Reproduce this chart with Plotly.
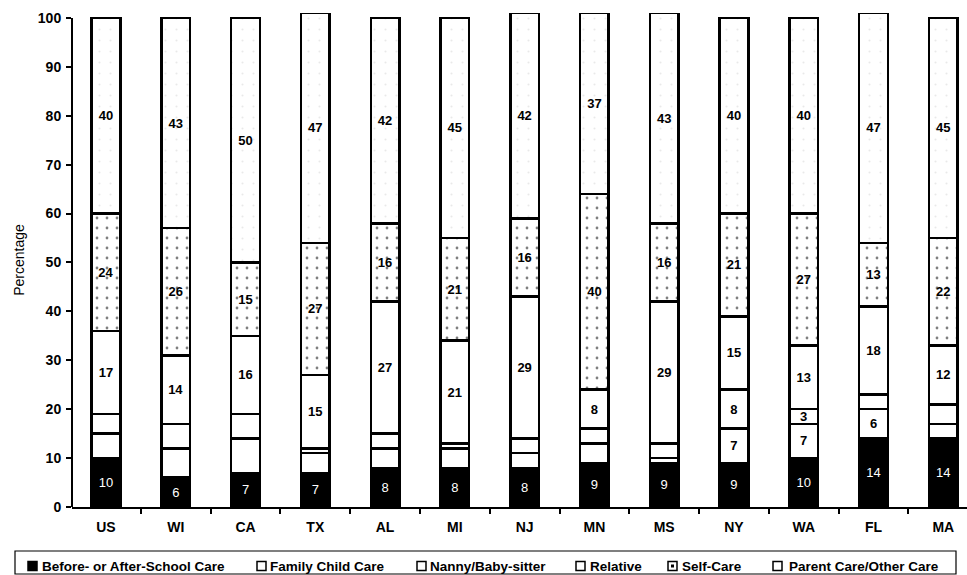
import plotly.graph_objects as go

states = ["US", "WI", "CA", "TX", "AL", "MI", "NJ", "MN", "MS", "NY", "WA", "FL", "MA"]

before_after = [10, 6, 7, 7, 8, 8, 8, 9, 9, 9, 10, 14, 14]
family_care = [5, 6, 7, 4, 4, 4, 3, 4, 1, 7, 7, 6, 3]
nanny = [4, 5, 5, 1, 3, 1, 3, 3, 3, 8, 3, 3, 4]
relative = [17, 14, 16, 15, 27, 21, 29, 8, 29, 15, 13, 18, 12]
self_care = [24, 26, 15, 27, 16, 21, 16, 40, 16, 21, 27, 13, 22]
parent_other = [40, 43, 50, 47, 42, 45, 42, 37, 43, 40, 40, 47, 45]

# only some of the thin white segments carry a value label
family_labels = ["", "", "", "", "", "", "", "", "", "7", "7", "6", ""]
nanny_labels = ["", "", "", "", "", "", "", "", "", "8", "3", "", ""]

legend_names = ["Before- or After-School Care", "Family Child Care", "Nanny/Baby-sitter",
                "Relative", "Self-Care", "Parent Care/Other Care"]

FONT = "Liberation Sans, Arial, sans-serif"
BAR_W = 0.41
LINE = dict(color="black", width=2.5)

W, H = 967, 575
ML, MR, MT, MB = 72, 0, 13, 68
PLOT_W = W - ML - MR
PLOT_H = H - MT - MB

fig = go.Figure()


def add_segment(name, values, labels, fill, text_color="black", bold=True, pattern=None):
    marker = dict(color=fill, line=LINE)
    if pattern:
        marker["pattern"] = pattern
    txt = [("<b>%s</b>" % t if (bold and t) else t) for t in labels]
    fig.add_trace(go.Bar(
        name=name, x=states, y=values, width=BAR_W, marker=marker,
        text=txt, textposition="inside", insidetextanchor="middle",
        textangle=0, constraintext="none",
        textfont=dict(family=FONT, size=13, color=text_color),
        hoverinfo="x+y+name", showlegend=False,
    ))


add_segment(legend_names[0], before_after,
            [str(v) for v in before_after], "black", text_color="white", bold=False)
add_segment(legend_names[1], family_care, family_labels, "white")
add_segment(legend_names[2], nanny, nanny_labels, "white")
add_segment(legend_names[3], relative, [str(v) for v in relative], "white")
add_segment(legend_names[4], self_care, [str(v) for v in self_care], "white",
            pattern=dict(shape=".", fgcolor="black", bgcolor="white", size=10, solidity=0.06))
add_segment(legend_names[5], parent_other, [str(v) for v in parent_other], "white",
            pattern=dict(shape=".", fgcolor="#d4d4d4", bgcolor="white", size=11, solidity=0.03))

fig.update_layout(
    barmode="stack",
    width=W, height=H,
    margin=dict(l=ML, r=MR, t=MT, b=MB, autoexpand=False),
    paper_bgcolor="white", plot_bgcolor="white",
    font=dict(family=FONT, size=13, color="black"),
    showlegend=False,
    xaxis=dict(
        type="category", range=[-0.487, 12.34],
        showline=True, linecolor="black", linewidth=2,
        ticks="outside", ticklen=5, tickcolor="black", tickwidth=1.5, tickson="boundaries",
        showgrid=False, zeroline=False, tickangle=0, ticklabelstandoff=6,
        tickfont=dict(family=FONT, size=14, color="black", weight="bold"),
    ),
    yaxis=dict(
        range=[0, 101], tickvals=list(range(0, 101, 10)),
        showline=False, ticks="outside", ticklen=5, tickcolor="black", tickwidth=1.5,
        showgrid=False, zeroline=False, ticklabelstandoff=2,
        tickfont=dict(family=FONT, size=14, color="black", weight="bold"),
        title=dict(text="Percentage", font=dict(family=FONT, size=14, color="black"), standoff=9),
    ),
)

# vertical axis line stops at 100
fig.add_shape(type="line", xref="paper", yref="y", x0=0, x1=0, y0=0, y1=100,
              line=dict(color="black", width=2))


# --- boxed legend strip under the axis (pixel positions -> paper coords) ---
def px_x(p):
    return (p - ML) / PLOT_W


def px_y(p):
    return (H - MB - p) / PLOT_H


fig.add_shape(type="rect", xref="paper", yref="paper",
              x0=px_x(15), x1=px_x(956), y0=px_y(551), y1=px_y(574),
              line=dict(color="black", width=1.2), fillcolor="rgba(0,0,0,0)")

icon_left = [28, 257, 417, 576, 668, 773]
text_left = [40, 268, 428, 588, 680, 787]
icon_fill = ["black", "white", "white", "white", "white", "white"]
ICON = 9
ICON_CY = 566

for name, ix, tx, fill in zip(legend_names, icon_left, text_left, icon_fill):
    fig.add_shape(type="rect", xref="paper", yref="paper",
                  x0=px_x(ix), x1=px_x(ix + ICON),
                  y0=px_y(ICON_CY - ICON / 2), y1=px_y(ICON_CY + ICON / 2),
                  line=dict(color="black", width=1.5), fillcolor=fill)
    fig.add_annotation(xref="paper", yref="paper", x=px_x(tx), y=px_y(ICON_CY),
                       xanchor="left", yanchor="middle", showarrow=False,
                       text=name, font=dict(family=FONT, size=13.5, color="black", weight="bold"))

# dotted mark inside the Self-Care key
sc = icon_left[4]
fig.add_shape(type="rect", xref="paper", yref="paper",
              x0=px_x(sc + 3), x1=px_x(sc + 6),
              y0=px_y(ICON_CY - 1.5), y1=px_y(ICON_CY + 1.5),
              line=dict(width=0), fillcolor="black")

fig.write_html("out.html")
